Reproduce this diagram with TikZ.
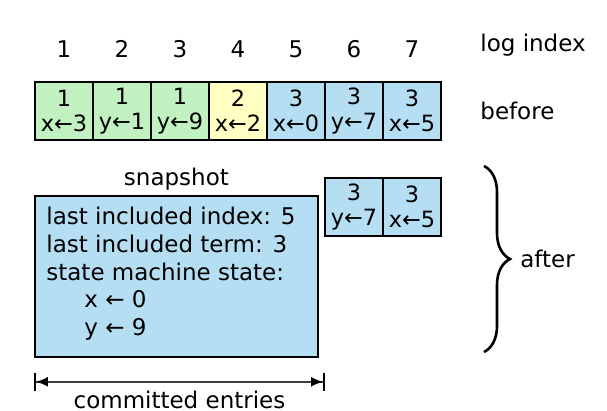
\documentclass[tikz,border=0pt]{standalone}
\usepackage{fontspec}
\setmainfont{DejaVu Sans}
\usepackage{xcolor}
\usetikzlibrary{arrows.meta,positioning,decorations.pathreplacing}
\definecolor{termone}{RGB}{193,240,193}
\definecolor{termtwo}{RGB}{255,255,196}
\definecolor{termthree}{RGB}{181,222,243}
\begin{document}
\begin{tikzpicture}[
  x=0.5pt, y=-0.5pt,
  entry/.style={draw, line width=0.9pt, minimum width=29pt, minimum height=29pt,
                inner sep=0pt, outer sep=0pt, align=center, anchor=north west,
                font=\fontsize{11.2}{12.5}\selectfont},
  lbl/.style={font=\fontsize{11.5}{13.8}\selectfont, inner sep=1pt},
  snapbox/.style={draw, line width=0.9pt, fill=termthree, minimum width=141.5pt,
                  minimum height=80.5pt, inner sep=0pt, anchor=north west},
  span/.style={black!75, line width=0.8pt,
               {Bar[width=9pt,line width=1pt,black]Latex[length=6pt,width=5pt,black]}-{Latex[length=6pt,width=5pt,black]Bar[width=9pt,line width=1pt,black]}},
  curly/.style={line width=1.3pt, decorate, decoration={brace, amplitude=13pt}}
]
\useasboundingbox (0,0) rectangle (607,411);

% log before compaction
\foreach \i/\t/\cmd/\col in {1/1/x←3/termone, 2/1/y←1/termone, 3/1/y←9/termone,
                              4/2/x←2/termtwo, 5/3/x←0/termthree, 6/3/y←7/termthree,
                              7/3/x←5/termthree}{
  \node[entry, fill=\col] (c\i) at (35+58*\i-58,82) {\t\\\cmd};
  \node[lbl, above=11pt of c\i] (n\i) {\i};
}
\node[lbl, anchor=west] (logidx) at (478,45) {log index};
\node[lbl, anchor=west] (before) at (478,111) {before};

% log after compaction
\node[snapbox] (snap) at (34,195) {};
\node[lbl, above=1pt of snap] (snaplbl) {snapshot};
\node[lbl, align=left, inner sep=0pt, anchor=north west,
      below right=6pt and 6pt of snap.north west] (state)
  {last included index: 5\\last included term: 3\\state machine state:\\
   \hspace*{19pt}x ← 0\\\hspace*{19pt}y ← 9};
\node[entry, fill=termthree] (a6) at (325,178) {3\\y←7};
\node[entry, fill=termthree] (a7) at (a6.north east) {3\\x←5};

\coordinate (cl) at ([yshift=-12pt]snap.south west);
\coordinate (cr) at (cl -| a6.west);
\draw[span] (cl) -- (cr) node[lbl, text=black, midway, below=3pt] (commit) {committed entries};

\coordinate (bt) at (484,166);
\coordinate (bb) at (484,352);
\draw[curly] (bt) -- (bb) coordinate[midway] (bm);
\node[lbl, right=17pt of bm] (after) {after};
\end{tikzpicture}
\end{document}
